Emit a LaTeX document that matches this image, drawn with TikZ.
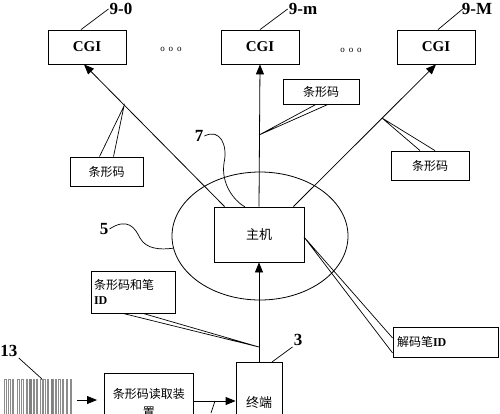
\documentclass[tikz,border=0pt]{standalone}
\usepackage{fontspec}
\setmainfont{Liberation Serif}
\newfontfamily\cjk{Noto Sans CJK SC}
\usetikzlibrary{positioning,arrows.meta,shapes.geometric}
\tikzset{
  box/.style={draw,line width=0.8pt,inner sep=0pt},
  cgibox/.style={box,minimum width=78pt,minimum height=34pt,font=\fontsize{15}{15}\selectfont\bfseries},
  callout/.style={box,font=\cjk\fontsize{12}{15}\selectfont},
  lbl/.style={inner sep=1pt,font=\fontsize{17}{17}\selectfont\bfseries},
  dots/.style={inner sep=0pt,font=\fontsize{9}{9}\selectfont},
  arr/.style={line width=0.8pt,-{Triangle[length=10pt,width=8pt]}},
  ptr/.style={line width=0.7pt},
  bar/.style={draw=black!45,line width=0.6pt}
}
\newcommand{\idtxt}{{\rmfamily\bfseries ID}}
\begin{document}
\begin{tikzpicture}[x=1pt,y=-1pt]
	\useasboundingbox (0,0) rectangle (500,413);
	\clip (0,0) rectangle (500,413);
	% CGI row
	\node[cgibox] (cgi0) at (87,47) {CGI};
	\node[cgibox] (cgim) at (260,47) {CGI};
	\node[cgibox] (cgiM) at (436,47) {CGI};
	\node[dots] (dots1) at (171,49) {o\hspace{4pt}o\hspace{4pt}o};
	\node[dots] (dots2) at (351,50) {o\hspace{4pt}o\hspace{4pt}o};
	\node[lbl] (l90) at (121,9) {9-0};
	\node[lbl] (l9m) at (303,9) {9-m};
	\node[lbl] (l9M) at (477,9) {9-M};
	\draw[ptr] ([xshift=-6pt]cgi0.north) -- (l90.west);
	\draw[ptr] (cgim.north) -- (l9m.west);
	\draw[ptr] ([xshift=2pt]cgiM.north) -- ([xshift=2pt]l9M.west);
	% host and network
	\node[ellipse,draw,line width=0.8pt,minimum width=176pt,minimum height=128pt] (net) at (260,236) {};
	\node[box,minimum width=90pt,minimum height=55pt,font=\cjk\fontsize{13}{13}\selectfont] (host) at (259,234.5) {主机};
	\draw[arr] ([xshift=11pt]host.north west) -- ([xshift=-3pt]cgi0.south);
	\draw[arr] (host.north) -- (cgim.south);
	\draw[arr] ([xshift=-11pt]host.north east) -- (cgiM.south);
	\node[lbl] (l7) at (199,136) {7};
	\node[lbl] (l5) at (104,229) {5};
	\draw[ptr] (l7.east) .. controls (220,128) and (228,145) .. (224,163)
		.. controls (221,183) and (233,200) .. (245,207);
	\draw[ptr] (l5.east) .. controls (128,217) and (135,228) .. (140,238)
		.. controls (146,249) and (160,250) .. (net.188);
	% callouts on the host links
	\coordinate (t0) at (124,106);
	\coordinate (tm) at (259,135);
	\coordinate (tM) at (382,118);
	\node[callout,minimum width=73pt,minimum height=29pt] (c0) at (106.5,171.5) {条形码};
	\node[callout,minimum width=76pt,minimum height=25pt] (cm) at (321,91.5) {条形码};
	\node[callout,minimum width=78pt,minimum height=29pt] (cM) at (430,165.5) {条形码};
	\draw[ptr] ([xshift=-7pt]c0.north) -- (t0) -- ([xshift=7pt]c0.north);
	\draw[ptr] ([xshift=-5pt]cm.south) -- (tm) -- ([xshift=7pt]cm.south);
	\draw[ptr] ([xshift=-10pt]cM.north) -- (tM) -- ([xshift=5pt]cM.north);
	% terminal and reader
	\node[box,minimum width=46pt,minimum height=80pt,anchor=north,font=\cjk\fontsize{13}{13}\selectfont] (term) at (259,362) {终端};
	\node[box,minimum width=89pt,minimum height=58pt,anchor=north west,align=center,font=\cjk\fontsize{12}{18}\selectfont] (reader) at (104,373) {条形码读取装\\置};
	\draw[arr] (term.north) -- (host.south);
	\draw[arr] (reader.east |- 0,401) -- (term.west |- 0,401);
	\coordinate (slant) at (215,401);
	\draw[ptr] (slant) -- (211,413);
	\node[lbl] (l3) at (298,340) {3};
	\draw[ptr] ([xshift=13pt]term.north) -- (l3.south west);
	\coordinate (tid) at (259,347);
	\coordinate (tdec) at (304,237);
	\node[callout,minimum width=84pt,minimum height=42pt,align=left,text width=78pt] (cid) at (133,292) {条形码和笔\\\idtxt};
	\node[callout,minimum width=105pt,minimum height=30pt,align=left,text width=97pt] (cdec) at (445.5,342) {解码笔\idtxt};
	\draw[ptr] ([xshift=-10pt]cid.south) -- (tid) -- ([xshift=10pt]cid.south);
	\draw[ptr] ([yshift=-11pt]cdec.west) -- (tdec) -- ([yshift=4pt]cdec.west);
	% bar code
	\foreach \x/\w in {4/2,8/2,12/1.5,17/2,21/2,26/1.5,29/2.5,33/1,36/1.5,40/2,43/2,47/1.5,51/2,55/1.5,58/2,62/1.5,66/1.5,70/1.5}
		\draw[bar] (\x,379) rectangle ++(\w,40);
	\fill[black!50] (29,379) rectangle ++(2.5,40);
	\fill[black!50] (51,379) rectangle ++(2,40);
	\node[lbl] (l13) at (9,351) {13};
	\coordinate (bc) at (42,379);
	\draw[ptr] (l13.south east) -- (bc);
	\coordinate (bcend) at (77,400);
	\draw[arr] (bcend) -- ([xshift=-7pt]reader.west |- bcend);
\end{tikzpicture}
\end{document}
